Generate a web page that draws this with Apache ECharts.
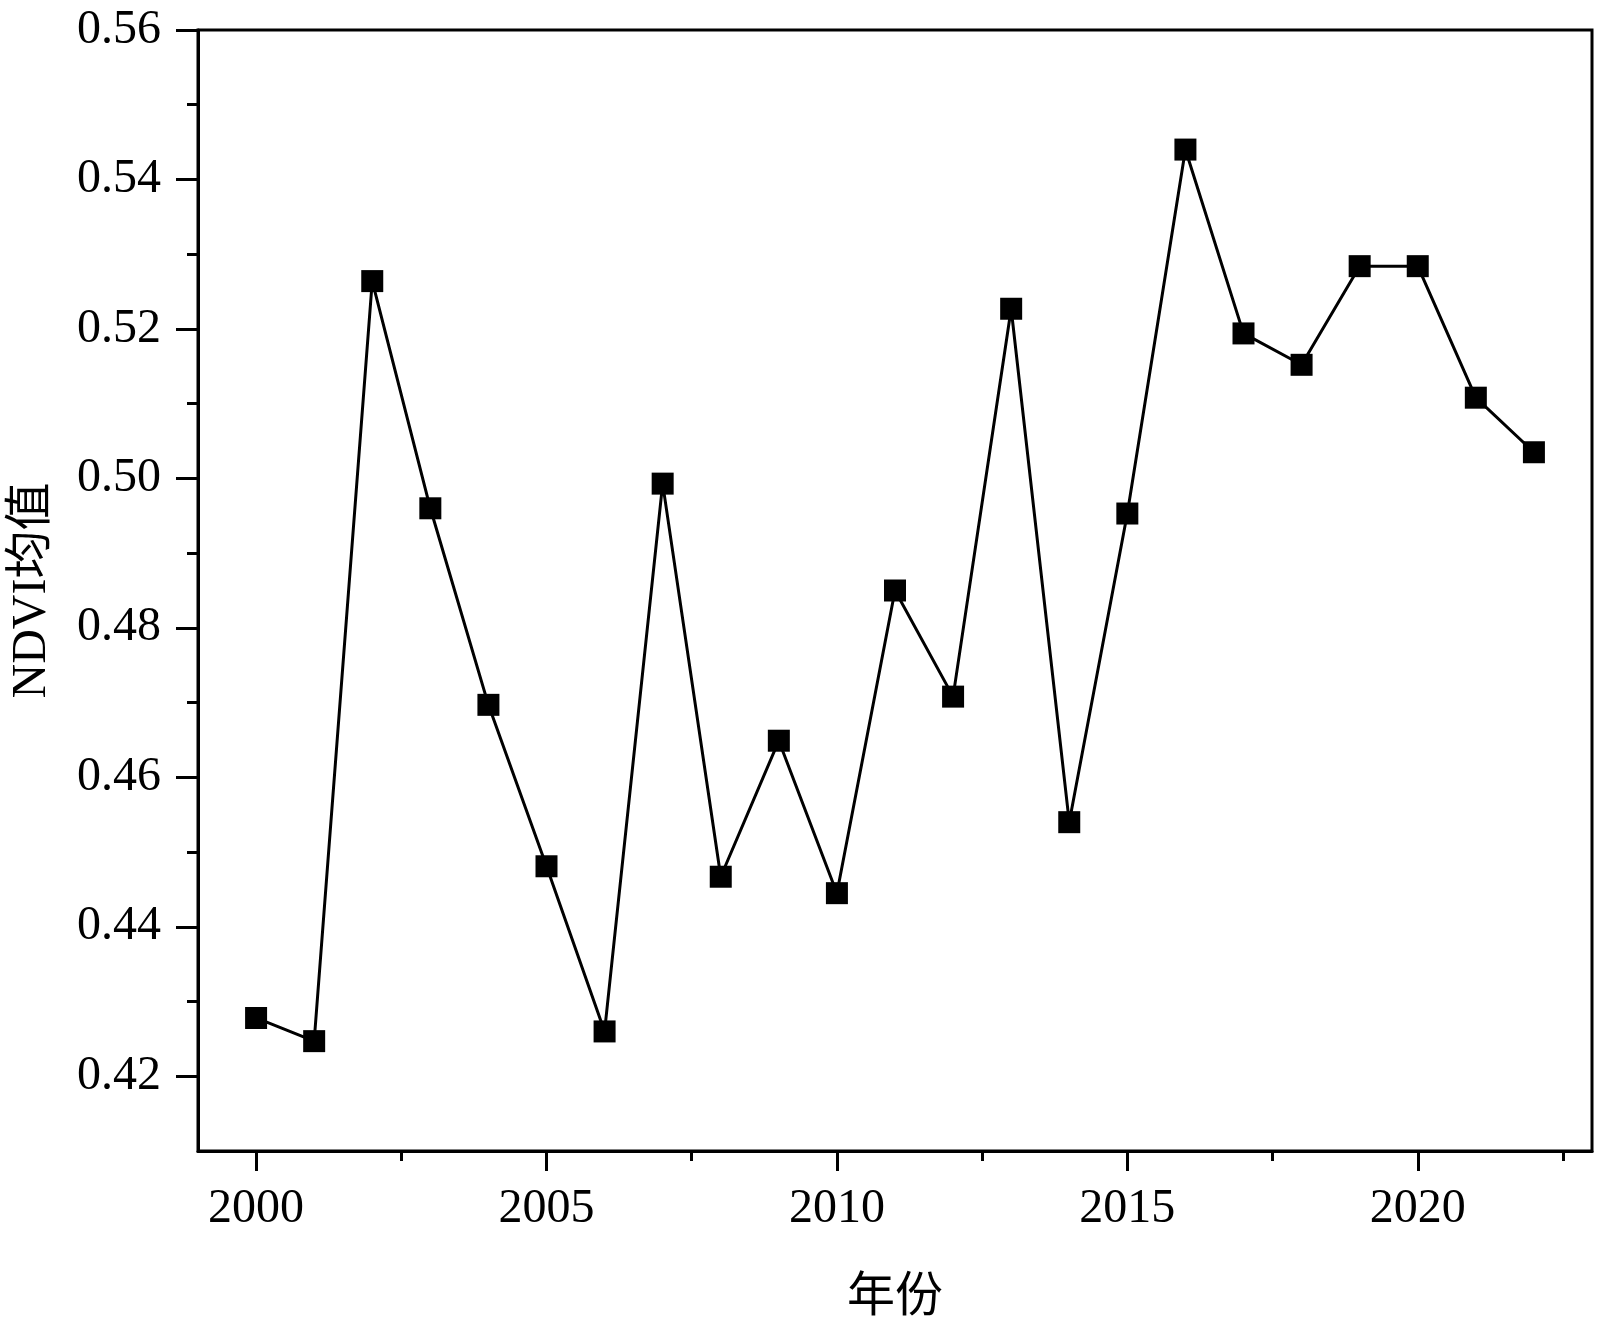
<!DOCTYPE html>
<html>
<head>
<meta charset="utf-8">
<script src="https://cdn.jsdelivr.net/npm/echarts@6/dist/echarts.min.js"></script>
<style>
html,body{margin:0;padding:0;background:#fff;}
#chart{width:1600px;height:1327px;}
</style>
</head>
<body>
<div id="chart"></div>
<script>
const years = [2000,2001,2002,2003,2004,2005,2006,2007,2008,2009,2010,2011,2012,2013,2014,2015,2016,2017,2018,2019,2020,2021,2022];
const ndvi = [0.4278,0.4247,0.5264,0.4960,0.4697,0.4481,0.4260,0.4993,0.4467,0.4649,0.4445,0.4850,0.4708,0.5227,0.4540,0.4953,0.5440,0.5194,0.5152,0.5284,0.5284,0.5108,0.5035];
const xMajorTicks = [2000,2005,2010,2015,2020];
const xMinorTicks = [2002.5,2007.5,2012.5,2017.5,2022.5];
const yMajorTicks = [0.42,0.44,0.46,0.48,0.50,0.52,0.54,0.56];
const yMinorTicks = [0.43,0.45,0.47,0.49,0.51,0.53,0.55];
const xName = '年份';
const yName = 'NDVI均值';

const serif = 'Liberation Serif, "Noto Sans CJK SC", serif';
const chart = echarts.init(document.getElementById('chart'), null, {renderer:'canvas'});
chart.setOption({
  animation:false,
  backgroundColor:'#fff',
  grid:{left:197,right:8,top:30,bottom:174,show:true,borderColor:'#000',borderWidth:3,containLabel:false},
  xAxis:[
    {type:'value',min:1999,max:2023,position:'bottom',
     name:xName,nameLocation:'middle',nameGap:123,
     nameTextStyle:{fontSize:48,color:'#000',fontFamily:serif},
     axisLine:{show:true,onZero:false,lineStyle:{color:'#000',width:3}},
     axisTick:{show:true,inside:false,length:20,lineStyle:{color:'#000',width:3},customValues:xMajorTicks},
     axisLabel:{show:true,margin:34,fontSize:48,color:'#000',fontFamily:serif,customValues:xMajorTicks,formatter:v=>String(v)},
     splitLine:{show:false}},
    {type:'value',min:1999,max:2023,position:'bottom',
     axisLine:{show:false,onZero:false},
     axisTick:{show:true,inside:false,length:10,lineStyle:{color:'#000',width:3},customValues:xMinorTicks},
     axisLabel:{show:false},splitLine:{show:false}}
  ],
  yAxis:[
    {type:'value',min:0.41,max:0.56,position:'left',
     name:yName,nameLocation:'middle',nameGap:142,nameRotate:90,
     nameTextStyle:{fontSize:48,color:'#000',fontFamily:serif},
     axisLine:{show:true,onZero:false,lineStyle:{color:'#000',width:3}},
     axisTick:{show:true,inside:false,length:22,lineStyle:{color:'#000',width:3},customValues:yMajorTicks},
     axisLabel:{show:true,margin:37,fontSize:48,color:'#000',fontFamily:serif,customValues:yMajorTicks,formatter:v=>v.toFixed(2)},
     splitLine:{show:false}},
    {type:'value',min:0.41,max:0.56,position:'left',
     axisLine:{show:false,onZero:false},
     axisTick:{show:true,inside:false,length:11,lineStyle:{color:'#000',width:3},customValues:yMinorTicks},
     axisLabel:{show:false},splitLine:{show:false}}
  ],
  series:[{
    type:'line',xAxisIndex:0,yAxisIndex:0,
    data:years.map((y,i)=>[y,ndvi[i]]),
    symbol:'rect',symbolSize:22,
    itemStyle:{color:'#000'},
    lineStyle:{color:'#000',width:3},
    z:5
  }]
});
</script>
</body>
</html>
